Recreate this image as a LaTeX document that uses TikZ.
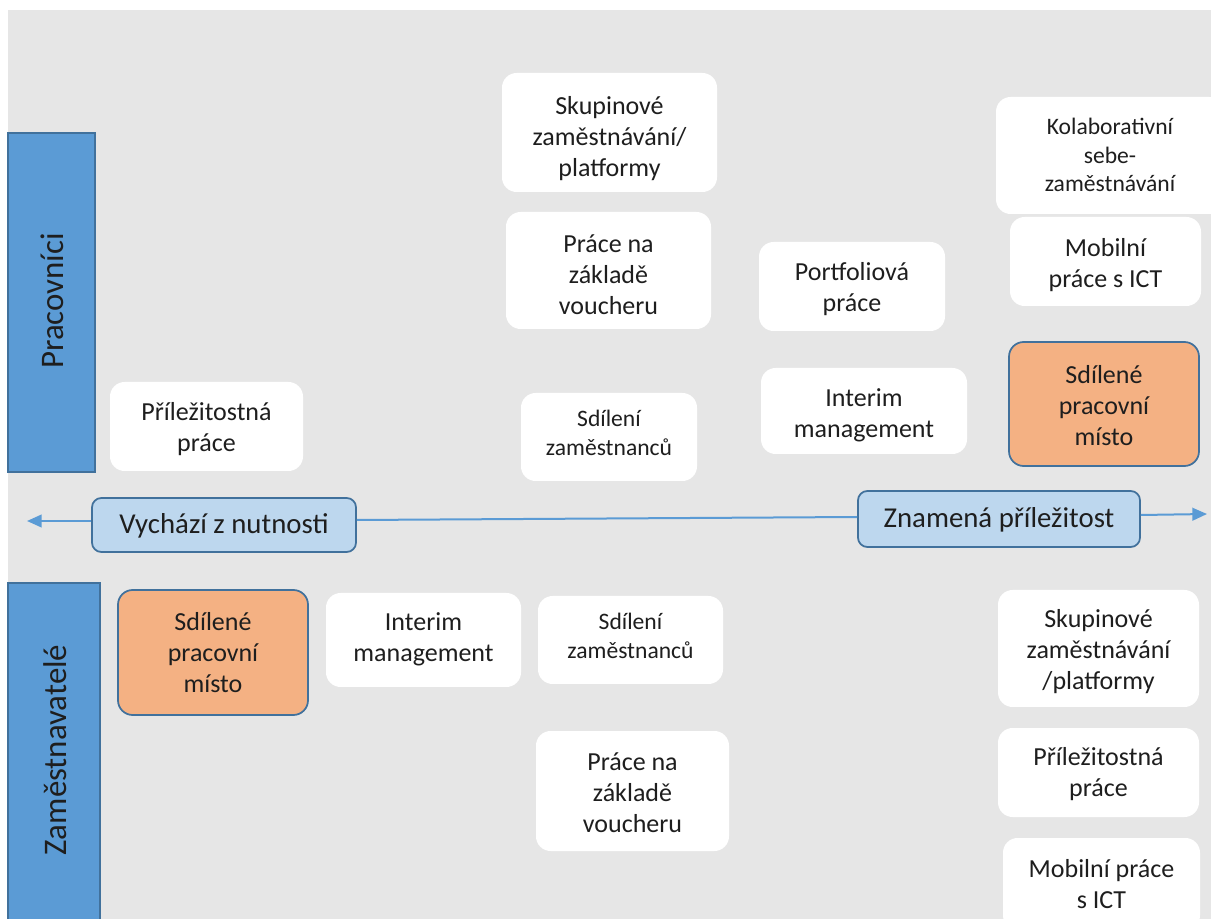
\documentclass[tikz,border=0pt]{standalone}
\usepackage{fontspec}
\setmainfont{Carlito}
\usetikzlibrary{arrows.meta,calc}
\definecolor{bgc}{HTML}{E6E6E6}
\definecolor{barfill}{HTML}{5B9BD5}
\definecolor{bardraw}{HTML}{41719C}
\definecolor{axfill}{HTML}{BDD7EE}
\definecolor{orfill}{HTML}{F4B183}
\definecolor{txt}{HTML}{1E1E1E}
% name, x1, y1, x2, y2, shape style, text style, text, text offset (px, down)
\newcommand{\bx}[9]{%
  \node[#6,minimum width={(#4-#2)*0.75pt},minimum height={(#5-#3)*0.75pt}] (#1) at ({(#2+#4)/2},{(#3+#5)/2}) {};
  \node[#7] (#1t) at ($(#1.center)+(0,#9)$) {#8};}
\tikzset{
  shp/.style={inner sep=0pt,rounded corners=11pt},
  wbox/.style={shp,fill=white},
  obox/.style={shp,fill=orfill,draw=bardraw,line width=1.3pt},
  axbox/.style={shp,fill=axfill,draw=bardraw,line width=1.3pt,rounded corners=7pt},
  tbase/.style={inner sep=0pt,align=center,text=txt},
  tmain/.style={tbase,font=\fontsize{19.5}{23.25}\selectfont},
  tsmall/.style={tbase,font=\fontsize{17.7}{21.5}\selectfont},
  tax/.style={tbase,font=\fontsize{21.6}{26}\selectfont},
  barbox/.style={inner sep=0pt,fill=barfill,draw=bardraw,line width=1.2pt},
  barlabel/.style={inner sep=0pt,text=txt,font=\fontsize{24.7}{29}\selectfont,rotate=90},
  axline/.style={draw=barfill,line width=1.5pt},
  axarrow/.style={axline,-{Triangle[length=11pt,width=9.5pt]}}
}
\begin{document}
\begin{tikzpicture}[x=0.75pt,y=-0.75pt]
\useasboundingbox (0,0) rectangle (1211,919);
\fill[white] (0,0) rectangle (1211,919);
\fill[bgc] (8,10) rectangle (1211,919);
\clip (0,0) rectangle (1211,919);
% bars
\node[barbox,minimum width={87*0.75pt},minimum height={339*0.75pt}] (barP) at (51.5,302.5) {};
\node[barlabel] (labP) at (52,301) {Pracovníci};
\node[barbox,minimum width={92*0.75pt},minimum height={357*0.75pt}] (barZ) at (54,761.5) {};
\node[barlabel] (labZ) at (55,750) {Zaměstnavatelé};
% axis
\bx{vych}{92}{498}{356}{552}{axbox}{tax}{Vychází z nutnosti}{1}
\bx{znam}{858}{491}{1140}{547}{axbox}{tax}{Znamená příležitost}{1}
\coordinate (tipL) at (27,521);
\coordinate (tipR) at (1207,514);
\draw[axarrow] ($(vych.west)+(0,-4)$) -- (tipL);
\draw[axline] ($(vych.east)+(0,-5)$) -- ($(znam.west)+(0,-2)$);
\draw[axarrow] ($(znam.east)+(0,-4)$) -- (tipR);
% top boxes
\bx{skT}{502}{73}{717}{192}{wbox}{tmain}{Skupinové\\zaměstnávání/\\platformy}{6}
\bx{vouT}{506}{212}{711}{329}{wbox}{tmain}{Práce na\\základě\\voucheru}{4}
\bx{porT}{759}{242}{945}{331}{wbox}{tmain}{Portfoliová\\práce}{3}
\bx{kolT}{996}{97}{1224}{214}{wbox}{tsmall}{Kolaborativní\\sebe-\\zaměstnávání}{-0.5}
\bx{mobT}{1010}{217}{1201}{306}{wbox}{tmain}{Mobilní\\práce s ICT}{4}
\bx{sdmT}{1009}{342}{1199}{466}{obox}{tmain}{Sdílené\\pracovní\\místo}{2}
\bx{priT}{110}{382}{303}{471}{wbox}{tmain}{Příležitostná\\práce}{3}
\bx{sdzT}{521}{393}{697}{481}{wbox}{tsmall}{Sdílení\\zaměstnanců}{-4}
\bx{intT}{761}{368}{967}{454}{wbox}{tmain}{Interim\\management}{4}
% bottom boxes
\bx{sdmB}{118}{590}{308}{715}{obox}{tmain}{Sdílené\\pracovní\\místo}{0}
\bx{intB}{326}{593}{521}{687}{wbox}{tmain}{Interim\\management}{-0.5}
\bx{sdzB}{538}{596}{723}{684}{wbox}{tsmall}{Sdílení\\zaměstnanců}{-4}
\bx{vouB}{536}{731}{729}{851}{wbox}{tmain}{Práce na\\základě\\voucheru}{2}
\bx{skB}{998}{590}{1199}{707}{wbox}{tmain}{Skupinové\\zaměstnávání\\/platformy}{3}
\bx{priB}{998}{728}{1199}{817}{wbox}{tmain}{Příležitostná\\práce}{1.5}
\bx{mobB}{1003}{838}{1200}{930}{wbox}{tmain}{Mobilní práce\\s ICT}{0}
\end{tikzpicture}
\end{document}
